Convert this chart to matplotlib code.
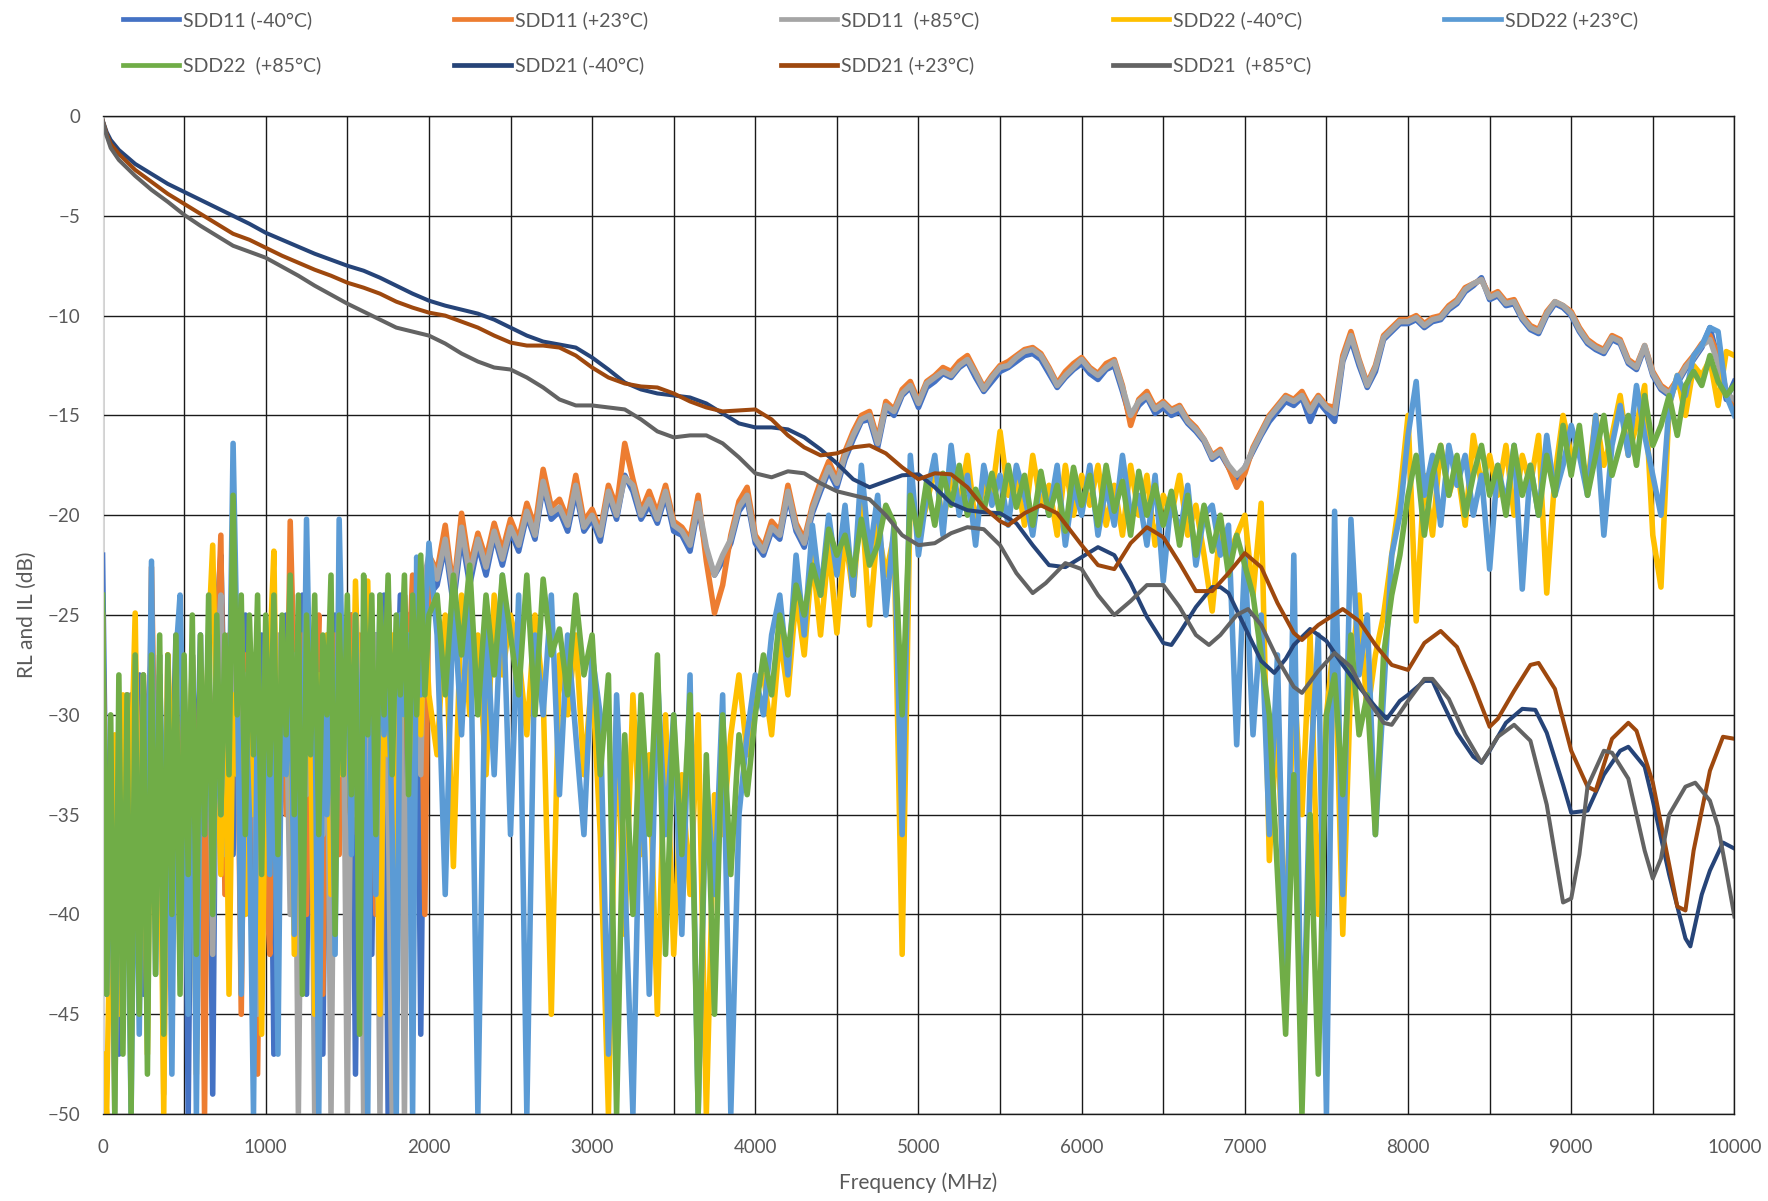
import numpy as np
import matplotlib
matplotlib.use("Agg")
import matplotlib.pyplot as plt

plt.rcParams['font.family'] = ['Lato', 'DejaVu Sans']

# frequency grid of the return-loss traces (MHz)
freq_rl = list(range(0, 2001, 25)) + list(range(2050, 10001, 50))

# ---- SDD11 (return loss, port 1) ----
sdd11_m40_lo = [
    -22, -38, -45, -33, -47, -31, -42, -29, -36, -28, -44, -30, -27, -39, -28, -46, -29, -34, -26, -41,
    -28, -50, -27, -35, -26, -43, -27, -49, -25, -22, -31, -26, -37, -27, -33, -25, -40, -27, -30, -26,
    -35, -28, -47, -27, -31, -25, -38, -27, -29, -24, -44, -27, -30, -26, -47, -28, -31, -25, -36, -27,
    -29, -25, -48, -27, -30, -24, -42, -26, -33, -24, -50, -27, -31, -24, -37, -25, -28, -23, -46, -26,
    -24,
]
sdd11_m40_hi = [
    -23.5, -21.5, -24.5, -21.0, -23.5, -21.5, -23.0, -21.0, -22.5, -20.8,
    -21.8, -20.0, -21.2, -18.5, -20.2, -19.8, -20.8, -18.8, -20.8, -20.2,
    -21.3, -19.0, -20.2, -18.0, -18.8, -20.2, -19.5, -20.4, -19.0, -20.8,
    -21.0, -21.8, -19.6, -21.8, -23.0, -22.3, -21.4, -19.8, -19.2, -21.4,
    -22.0, -20.8, -21.2, -19.0, -20.8, -21.6, -19.9, -18.8, -17.8, -18.6,
    -17.2, -16.2, -15.3, -15.2, -16.6, -14.6, -15.0, -14.0, -13.6, -14.6,
    -13.6, -13.3, -12.9, -13.1, -12.6, -12.3, -13.1, -13.8, -13.3, -12.8,
    -12.6, -12.3, -12.0, -11.9, -12.2, -12.9, -13.6, -13.1, -12.7, -12.4,
    -12.9, -13.2, -12.7, -12.5, -13.8, -15.2, -14.5, -14.1, -14.9, -14.6,
    -15.0, -14.8, -15.4, -15.8, -16.3, -17.2, -16.9, -17.6, -18.3, -17.6,
    -16.8, -16.0, -15.3, -14.8, -14.3, -14.5, -14.1, -15.3, -14.3, -14.8,
    -15.3, -12.3, -11.2, -12.5, -13.6, -12.8, -11.2, -10.8, -10.4, -10.4,
    -10.2, -10.6, -10.3, -10.2, -9.7, -9.4, -8.8, -8.5, -8.1, -9.2,
    -9.0, -9.5, -9.4, -10.2, -10.7, -10.9, -10.0, -9.4, -9.6, -10.0,
    -10.8, -11.4, -11.7, -11.9, -11.2, -11.4, -12.4, -12.7, -11.6, -13.0,
    -13.7, -14.0, -13.4, -12.7, -12.2, -11.6, -10.6, -12.2, -14.2, -13.3,
]

sdd11_p23_lo = [
    -25, -41, -34, -48, -32, -39, -29, -45, -30, -36, -28, -43, -22.6, -35, -29, -47, -27, -38, -30, -33,
    -29, -42, -27, -36, -30, -50, -28, -33, -27, -21, -39, -26, -31, -28, -45, -27, -34, -29, -48, -30,
    -38, -42, -30, -39, -27, -35, -20.3, -28, -33, -26, -40, -27, -31, -25, -44, -28, -30, -26, -37, -27,
    -29, -25, -34, -26, -31, -24, -28, -40, -27, -32, -24, -30, -26, -36, -24, -28, -23, -31, -24, -40,
    -22,
]
sdd11_p23_hi = [
    -22.8, -20.5, -23.8, -19.9, -22.6, -20.9, -22.2, -20.4, -21.8, -20.2,
    -21.2, -19.4, -20.6, -17.7, -19.6, -19.2, -20.2, -18.0, -20.3, -19.7,
    -20.8, -18.5, -19.6, -16.4, -18.2, -19.8, -18.8, -19.9, -18.5, -20.3,
    -20.6, -21.2, -19.0, -22.3, -24.9, -23.5, -21.0, -19.3, -18.6, -21.0,
    -21.6, -20.3, -20.8, -18.5, -20.4, -21.2, -19.5, -18.3, -17.3, -18.2,
    -16.8, -15.8, -15.0, -14.8, -16.2, -14.3, -14.7, -13.7, -13.3, -14.3,
    -13.3, -13.0, -12.6, -12.8, -12.3, -12.0, -12.8, -13.6, -13.0, -12.5,
    -12.3, -12.0, -11.7, -11.6, -11.9, -12.6, -13.4, -12.8, -12.4, -12.1,
    -12.6, -12.9, -12.4, -12.2, -13.5, -15.5, -14.2, -13.8, -14.6, -14.3,
    -14.7, -14.5, -15.2, -15.6, -16.2, -17.0, -16.7, -17.6, -18.6, -17.9,
    -16.6, -15.8, -15.0, -14.5, -14.0, -14.2, -13.8, -14.6, -14.0, -14.5,
    -14.6, -12.0, -10.8, -12.2, -13.4, -12.5, -11.0, -10.6, -10.2, -10.2,
    -10.0, -10.4, -10.1, -10.0, -9.5, -9.2, -8.6, -8.4, -8.2, -9.0,
    -8.8, -9.3, -9.2, -10.0, -10.5, -10.7, -9.8, -9.3, -9.5, -9.8,
    -10.6, -11.2, -11.5, -11.7, -11.0, -11.2, -12.2, -12.5, -11.5, -12.8,
    -13.5, -13.8, -13.2, -12.5, -12.0, -11.4, -11.0, -12.0, -13.8, -14.8,
]

sdd11_p85_lo = [
    -27, -44, -36, -50, -31, -41, -29, -47, -32, -38, -28, -45, -30, -34, -27, -49, -29, -37, -28, -43,
    -30, -36, -27, -47, -29, -33, -26, -42, -28, -24, -37, -27, -31, -26, -41, -28, -33, -27, -45, -29,
    -31, -27, -37, -26, -32, -28, -40, -27, -50, -29, -34, -27, -50, -28, -36, -26, -50, -28, -33, -27,
    -50, -29, -35, -27, -50, -28, -32, -26, -50, -27, -34, -50, -28, -25, -50, -26, -30, -24, -33, -23,
    -22,
]
sdd11_p85_hi = [
    -23.2, -21.2, -24.0, -20.6, -23.0, -21.2, -22.6, -20.8, -22.2, -20.6,
    -21.5, -19.8, -21.0, -18.3, -19.9, -19.6, -20.5, -18.5, -20.6, -20.0,
    -21.0, -18.8, -20.0, -18.1, -18.5, -20.0, -19.2, -20.2, -18.8, -20.5,
    -20.8, -21.5, -19.4, -21.6, -23.0, -22.0, -21.2, -19.6, -19.0, -21.2,
    -21.8, -20.6, -21.0, -18.8, -20.6, -21.4, -19.7, -18.6, -17.6, -18.4,
    -17.0, -16.0, -15.2, -15.0, -16.4, -14.5, -14.8, -13.9, -13.5, -14.4,
    -13.4, -13.1, -12.8, -13.0, -12.5, -12.2, -12.9, -13.7, -13.1, -12.6,
    -12.5, -12.1, -11.8, -11.7, -12.0, -12.7, -13.5, -13.0, -12.6, -12.2,
    -12.7, -13.0, -12.6, -12.3, -13.6, -15.0, -14.3, -14.0, -14.7, -14.4,
    -14.8, -14.6, -15.3, -15.7, -16.2, -17.1, -16.8, -17.5, -18.0, -17.6,
    -16.7, -15.9, -15.1, -14.6, -14.1, -14.3, -14.0, -14.8, -14.1, -14.6,
    -14.9, -12.2, -11.0, -12.3, -13.5, -12.6, -11.1, -10.7, -10.3, -10.3,
    -10.1, -10.5, -10.2, -10.1, -9.6, -9.3, -8.7, -8.4, -8.2, -9.1,
    -8.9, -9.4, -9.3, -10.1, -10.6, -10.8, -9.9, -9.3, -9.5, -9.9,
    -10.7, -11.3, -11.6, -11.8, -11.1, -11.3, -12.3, -12.6, -11.5, -12.9,
    -13.6, -13.9, -13.3, -12.6, -12.1, -11.5, -11.2, -12.4, -13.9, -14.2,
]

# ---- SDD22 (return loss, port 2) ----
sdd22_m40_lo = [
    -47, -50, -38, -31, -45, -29, -36, -33, -24.9, -40, -30, -47, -28, -35, -31, -50, -27, -33, -29, -42,
    -30, -36, -27, -48, -29, -34, -26, -21.5, -31, -38, -27, -44, -29, -33, -25, -40, -28, -35, -26, -46,
    -31, -27, -21.8, -37, -28, -33, -26, -42, -29, -36, -27, -31, -45, -28, -34, -26, -39, -29, -33, -27,
    -30, -36, -23.3, -31, -28, -23.3, -34, -29, -45, -27, -32, -26, -38, -28, -30, -26, -35, -27, -31, -25,
    -29,
]
sdd22_m40_hi = [
    -32, -25, -37.6, -24, -30, -26, -33, -24, -28, -25,
    -27, -31, -25, -29, -45, -27, -30, -26, -33, -28,
    -36, -50, -30, -41, -29, -37, -32, -45, -30, -42,
    -33, -39, -30, -50, -34, -36, -31, -28, -32, -29,
    -28, -31, -26, -29, -24, -27, -22, -26, -21.5, -25.9,
    -21, -24, -19, -25.5, -20.5, -23, -21, -42, -18.5, -21,
    -19.5, -17.5, -20.5, -18, -19.5, -17, -20.5, -18.5, -19, -15.8,
    -19, -18, -20.5, -17, -19.5, -18.5, -21, -17.5, -20, -18,
    -19.5, -17.5, -20.5, -18.5, -21, -17.5, -20, -18, -21.5, -19,
    -20, -18, -21, -19.5, -22, -24.8, -20.5, -22, -21, -20,
    -24, -19.4, -37.3, -30, -42, -28, -35, -26, -40, -30,
    -26, -41, -28, -24, -30, -27, -25, -22, -19, -15,
    -25.3, -18, -21, -16.5, -19, -17.5, -20.5, -16, -18.5, -17,
    -19, -16.5, -20, -17, -18.5, -16, -23.9, -18, -15, -17,
    -16.5, -18.5, -15, -17.5, -16, -14, -17, -15.5, -13.5, -21,
    -23.6, -14.5, -13, -15, -12.5, -13, -12.2, -14.5, -11.8, -12,
]

sdd22_p23_lo = [
    -30, -44, -33, -48, -36, -41, -35, -50, -31, -46, -29, -38, -22.3, -43, -28, -36, -32, -48, -27, -24,
    -33, -45, -27, -50, -29, -36, -26, -40, -28, -35, -27, -31, -16.4, -27, -44, -29, -35, -50, -28, -33,
    -26, -38, -29, -47, -27, -33, -25, -41, -28, -36, -20.2, -31, -27, -50, -29, -35, -26, -42, -20.2, -30,
    -27, -37, -25, -33, -28, -50, -26, -39, -24, -31, -27, -36, -50, -25, -30, -26, -50, -22.1, -29, -26,
    -21.4,
]
sdd22_p23_hi = [
    -26, -39, -24, -31, -22.9, -50, -25, -33, -23, -36,
    -24, -50, -26, -30, -24, -34, -26, -31, -36, -27,
    -30, -47, -29, -38, -50, -31, -44, -28, -36, -30,
    -41, -28, -50, -33, -39, -29, -50, -35, -31, -28,
    -30, -26, -24, -28, -22, -26, -20.5, -24, -20, -23,
    -19.5, -24, -17.5, -22, -19, -25, -20.5, -36, -17, -22,
    -19, -17, -21, -16.5, -20, -18, -21.5, -17.5, -19.5, -18,
    -20.5, -17.5, -19, -21, -18, -20, -17.5, -21.5, -18.5, -20,
    -17.5, -21, -18.5, -20.5, -17, -20, -19, -21.5, -18, -23.3,
    -19, -21, -18.5, -22.5, -20, -19.5, -22, -20.5, -31.5, -22,
    -31, -25, -36, -27, -45, -22, -49, -33, -26, -50,
    -19.8, -39, -20.2, -28, -25, -36, -29, -22, -20, -16,
    -13.3, -19, -17, -20.5, -16.5, -18.5, -17, -20, -18, -22.7,
    -17.5, -19.5, -16.5, -23.7, -17.5, -20, -16, -19, -17.5, -15.5,
    -17, -19, -15, -21, -16.5, -14.5, -17, -13.5, -16, -18,
    -20, -14.5, -13, -14, -12, -11.5, -10.6, -10.8, -14, -15,
]

sdd22_p85_lo = [
    -24, -44, -30, -50, -28, -47, -29, -50, -27, -45, -28, -48, -27, -43, -26, -46, -27, -40, -26, -44,
    -27, -38, -25, -42, -26, -36, -24, -40, -25, -35, -26, -33, -19, -30, -24, -36, -25, -32, -24, -38,
    -25, -33, -24, -37, -25, -31, -23, -35, -24, -44, -25, -32, -24, -36, -26, -30, -23, -41, -25, -33,
    -24, -34, -25, -46, -23, -31, -24, -36, -24, -30, -23, -33, -25, -29, -23, -34, -24, -30, -22, -29,
    -25,
]
sdd22_p85_hi = [
    -24, -29, -23, -27, -22.5, -30, -24, -28, -23, -26,
    -29, -23, -30, -23.2, -27, -25.7, -29, -24, -28, -26,
    -33, -28, -50, -31, -40, -29, -36, -27, -42, -30,
    -37, -29, -50, -32, -45, -30, -38, -31, -34, -30,
    -27, -29, -25, -27, -23.5, -25, -22.5, -24, -20.7, -22,
    -21, -23, -20.2, -22.5, -21.5, -19.5, -20.4, -30, -19, -21,
    -18.3, -20.5, -17.9, -19.5, -17.5, -20, -18.7, -19.8, -17.9, -20,
    -17.5, -19.6, -18, -20.5, -17.8, -20, -18.5, -20.8, -17.6, -19.5,
    -18, -20.5, -17.5, -19.8, -18.3, -21, -17.8, -20, -18.5, -20.5,
    -18.8, -21.5, -19, -22, -19.5, -21.8, -20, -23, -21, -22.5,
    -24, -27, -30, -38, -46, -33, -50, -35, -48, -30,
    -28, -34, -26, -31, -29, -36, -27, -24, -22, -19,
    -17, -21, -18, -16.5, -19, -17, -20, -18, -16.5, -19,
    -17.5, -20, -16.5, -19, -17.5, -20, -17, -19, -15.5, -18,
    -15.5, -19, -17, -15, -18, -16.5, -15, -17.5, -14, -16.5,
    -15.5, -14, -16, -13.5, -12.8, -13.5, -12, -13.3, -14, -13.5,
]

# ---- SDD21 (insertion loss) ----
f_il_m40 = [0, 25, 50, 100, 200, 300, 400, 500, 600, 700, 800, 900, 1000, 1100, 1200, 1300, 1400, 1500,
            1600, 1700, 1800, 1900, 2000, 2100, 2200, 2300, 2400, 2500, 2600, 2700, 2800, 2900, 3000,
            3100, 3200, 3300, 3400, 3500, 3600, 3700, 3800, 3900, 4000, 4100, 4200, 4300, 4400, 4500,
            4600, 4700, 4800, 4900, 5000, 5100, 5200, 5300, 5400, 5500, 5600, 5700, 5800, 5900, 6000,
            6100, 6200, 6300, 6400, 6500, 6550, 6600, 6700, 6800, 6850, 6900, 7000, 7100, 7180, 7250,
            7300, 7400, 7500, 7600, 7700, 7800, 7870, 7950, 8000, 8100, 8150, 8200, 8300, 8400, 8450,
            8500, 8600, 8700, 8780, 8850, 8950, 9000, 9100, 9200, 9300, 9350, 9450, 9500, 9600, 9700,
            9730, 9800, 9850, 9930, 10000]
sdd21_m40 = [-0.2, -0.8, -1.2, -1.7, -2.4, -2.9, -3.4, -3.8, -4.2, -4.6, -5.0, -5.4, -5.85, -6.2, -6.55,
             -6.9, -7.2, -7.5, -7.75, -8.1, -8.5, -8.9, -9.25, -9.5, -9.7, -9.9, -10.2, -10.6, -11.0,
             -11.3, -11.45, -11.6, -12.1, -12.7, -13.35, -13.7, -13.9, -14.0, -14.1, -14.4, -14.9,
             -15.4, -15.6, -15.6, -15.7, -16.1, -16.7, -17.4, -18.2, -18.6, -18.3, -18.0, -17.95,
             -18.6, -19.4, -19.75, -19.85, -19.9, -20.4, -21.5, -22.5, -22.6, -22.1, -21.6, -22.0,
             -23.4, -25.1, -26.4, -26.5, -25.9, -24.6, -23.6, -23.6, -23.9, -25.6, -27.3, -27.9,
             -27.2, -26.5, -25.7, -26.3, -27.5, -28.6, -29.6, -30.2, -29.3, -29.0, -28.3, -28.3,
             -29.2, -30.9, -32.1, -32.4, -31.8, -30.4, -29.7, -29.75, -30.9, -33.5, -34.9, -34.8,
             -33.0, -31.8, -31.6, -32.6, -34.3, -38.0, -41.2, -41.6, -39.0, -37.8, -36.4, -36.7]

f_il_p23 = [0, 25, 50, 100, 200, 300, 400, 500, 600, 700, 800, 900, 1000, 1100, 1200, 1300, 1400, 1500,
            1600, 1700, 1800, 1900, 2000, 2100, 2200, 2300, 2400, 2500, 2600, 2700, 2800, 2900, 3000,
            3100, 3200, 3300, 3400, 3500, 3600, 3700, 3800, 3900, 4000, 4100, 4200, 4300, 4400, 4500,
            4600, 4700, 4800, 4900, 5000, 5100, 5200, 5300, 5400, 5500, 5550, 5650, 5750, 5850, 6000,
            6100, 6200, 6300, 6400, 6500, 6600, 6700, 6800, 6900, 7000, 7100, 7200, 7300, 7350, 7450,
            7600, 7700, 7800, 7900, 8000, 8100, 8200, 8300, 8400, 8500, 8550, 8650, 8750, 8800, 8900,
            9000, 9100, 9150, 9250, 9350, 9400, 9500, 9600, 9650, 9700, 9750, 9850, 9930, 10000]
sdd21_p23 = [-0.2, -0.9, -1.4, -1.9, -2.7, -3.3, -3.9, -4.4, -4.9, -5.4, -5.9, -6.2, -6.6, -7.0, -7.35,
             -7.7, -8.0, -8.35, -8.6, -8.9, -9.3, -9.6, -9.85, -10.0, -10.3, -10.6, -11.0, -11.35,
             -11.5, -11.5, -11.6, -12.0, -12.6, -13.1, -13.4, -13.55, -13.6, -13.9, -14.3, -14.6,
             -14.8, -14.75, -14.7, -15.2, -16.0, -16.6, -17.0, -16.9, -16.6, -16.5, -16.9, -17.6,
             -18.2, -17.9, -17.95, -18.6, -19.6, -20.3, -20.5, -19.9, -19.5, -19.9, -21.5, -22.5,
             -22.7, -21.4, -20.6, -21.1, -22.4, -23.8, -23.8, -22.9, -21.9, -22.6, -24.4, -25.9,
             -26.25, -25.5, -24.7, -25.3, -26.5, -27.5, -27.75, -26.4, -25.8, -26.6, -28.5, -30.6,
             -30.2, -28.8, -27.5, -27.4, -28.7, -31.8, -33.6, -33.8, -31.2, -30.4, -30.8, -33.4,
             -37.5, -39.6, -39.8, -36.8, -32.8, -31.1, -31.2]

f_il_p85 = [0, 25, 50, 100, 200, 300, 400, 500, 600, 700, 800, 900, 1000, 1100, 1200, 1300, 1400, 1500,
            1600, 1700, 1800, 1900, 2000, 2100, 2200, 2300, 2400, 2500, 2600, 2700, 2800, 2900, 3000,
            3100, 3200, 3300, 3400, 3500, 3600, 3700, 3800, 3900, 4000, 4100, 4200, 4300, 4400, 4500,
            4600, 4700, 4800, 4900, 5000, 5100, 5200, 5300, 5400, 5500, 5600, 5700, 5780, 5900, 6000,
            6100, 6200, 6300, 6400, 6500, 6600, 6700, 6780, 6850, 6950, 7020, 7100, 7200, 7300, 7350,
            7450, 7550, 7650, 7750, 7850, 7900, 8000, 8100, 8150, 8250, 8350, 8450, 8550, 8650, 8750,
            8850, 8950, 9000, 9050, 9100, 9200, 9250, 9350, 9450, 9500, 9550, 9600, 9700, 9760, 9850,
            9900, 9950, 10000]
sdd21_p85 = [-0.2, -1.0, -1.6, -2.2, -3.0, -3.7, -4.3, -4.95, -5.5, -6.0, -6.5, -6.8, -7.1, -7.55, -8.0,
             -8.5, -8.95, -9.4, -9.8, -10.2, -10.6, -10.8, -11.0, -11.4, -11.9, -12.3, -12.6, -12.7,
             -13.1, -13.6, -14.2, -14.5, -14.5, -14.6, -14.7, -15.2, -15.8, -16.1, -16.0, -16.0,
             -16.4, -17.1, -17.9, -18.1, -17.8, -17.9, -18.4, -18.8, -19.0, -19.2, -20.0, -21.0,
             -21.5, -21.4, -20.9, -20.6, -20.7, -21.5, -22.9, -23.9, -23.4, -22.4, -22.7, -24.0,
             -25.0, -24.3, -23.5, -23.5, -24.6, -26.0, -26.5, -26.0, -25.0, -24.7, -25.5, -27.2,
             -28.6, -28.9, -27.8, -26.9, -27.6, -29.2, -30.4, -30.5, -29.3, -28.2, -28.2, -29.2,
             -31.0, -32.4, -31.1, -30.5, -31.3, -34.5, -39.4, -39.2, -37.0, -33.6, -31.8, -31.9,
             -33.2, -36.8, -38.2, -37.2, -35.0, -33.6, -33.4, -34.3, -35.6, -37.8, -40.1]

labels = ['SDD11 (-40°C)', 'SDD11 (+23°C)', 'SDD11  (+85°C)', 'SDD22 (-40°C)', 'SDD22 (+23°C)',
          'SDD22  (+85°C)', 'SDD21 (-40°C)', 'SDD21 (+23°C)', 'SDD21  (+85°C)']
colors = ['#4472C4', '#ED7D31', '#A5A5A5', '#FFC000', '#5B9BD5', '#70AD47', '#264478', '#9E480E', '#636363']


def main():
    series = [
        (freq_rl, sdd11_m40_lo + sdd11_m40_hi, 4.0),
        (freq_rl, sdd11_p23_lo + sdd11_p23_hi, 4.0),
        (freq_rl, sdd11_p85_lo + sdd11_p85_hi, 4.0),
        (freq_rl, sdd22_m40_lo + sdd22_m40_hi, 4.0),
        (freq_rl, sdd22_p23_lo + sdd22_p23_hi, 4.0),
        (freq_rl, sdd22_p85_lo + sdd22_p85_hi, 4.0),
        (f_il_m40, sdd21_m40, 2.9),
        (f_il_p23, sdd21_p23, 2.9),
        (f_il_p85, sdd21_p85, 2.9),
    ]

    fig = plt.figure(figsize=(17.68, 12.01), dpi=100)
    ax = fig.add_axes([0.058, 0.0724, 0.923, 0.831])

    handles = []
    for (x, y, lw), lab, c in zip(series, labels, colors):
        h, = ax.plot(x, y, color=c, lw=lw, label=lab, solid_joinstyle='round')
        handles.append(h)

    ax.set_xlim(0, 10000)
    ax.set_ylim(-50, 0)
    ax.set_xticks(np.arange(0, 10001, 1000))
    ax.set_xticks(np.arange(0, 10001, 500), minor=True)
    ax.set_yticks(np.arange(-50, 1, 5))
    ax.set_axisbelow(True)
    ax.grid(True, which='both', color='#1a1a1a', linewidth=1.0)
    ax.tick_params(which='both', length=0, labelsize=13.5, labelcolor='#595959')
    ax.tick_params(axis='x', pad=18)
    ax.tick_params(axis='y', pad=16)
    for s in ['top', 'right', 'bottom']:
        ax.spines[s].set_color('#1a1a1a')
        ax.spines[s].set_linewidth(1.0)
    ax.spines['left'].set_color('#d9d9d9')

    ax.set_xlabel('Frequency (MHz)', fontsize=15, color='#595959')
    ax.set_ylabel('RL and IL (dB)', fontsize=15, color='#595959')
    ax.xaxis.set_label_coords(0.5, -0.058)
    ax.yaxis.set_label_coords(-0.040, 0.5)

    # legend is row-major in the original, matplotlib fills column-major
    order = [0, 5, 1, 6, 2, 7, 3, 8, 4]
    leg_handles = [plt.Line2D([], [], color=colors[i], lw=3.4) for i in order]
    fig.legend(leg_handles, [labels[i] for i in order],
               ncol=5, loc='upper left', bbox_to_anchor=(0.065, 0.997),
               frameon=False, fontsize=14, labelcolor='#595959',
               handlelength=2.9, handletextpad=0.2, columnspacing=6.85,
               labelspacing=1.4, borderaxespad=0.0)

    fig.savefig('out.png', dpi=100)


if __name__ == "__main__":
    main()
